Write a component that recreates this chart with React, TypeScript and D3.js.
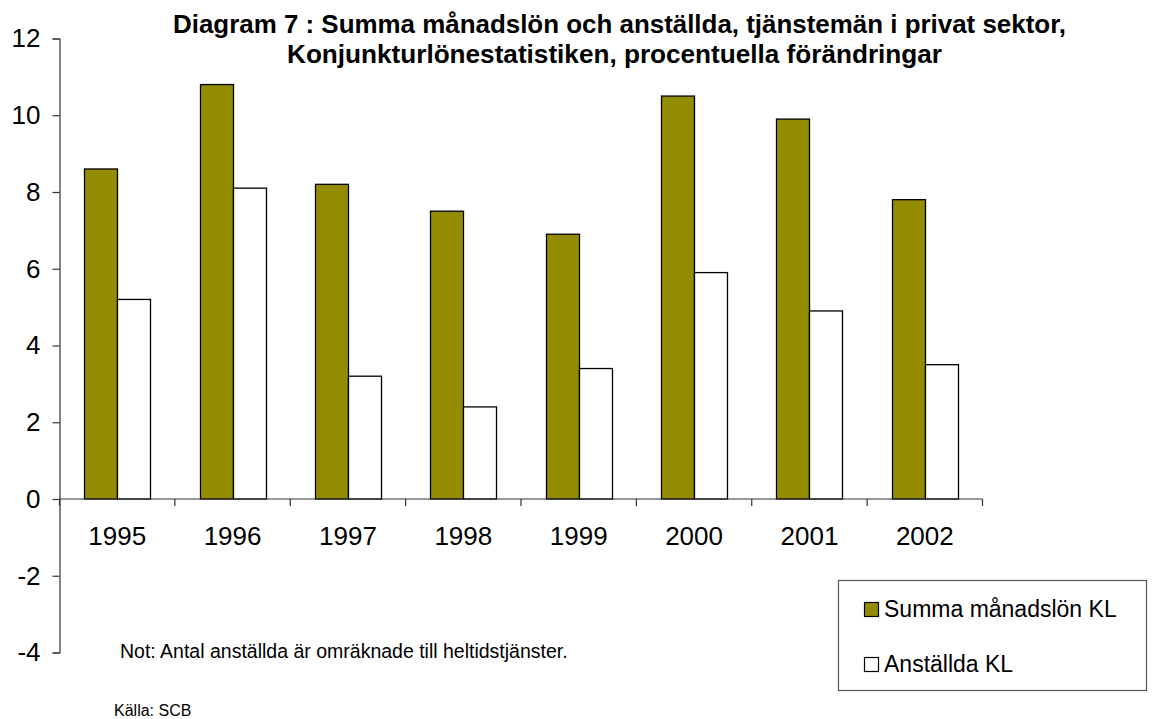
import React, { useEffect, useRef } from 'react';
import * as d3 from 'd3';

// data
const years = ['1995', '1996', '1997', '1998', '1999', '2000', '2001', '2002'];
const summaManadslon = [8.6, 10.8, 8.2, 7.5, 6.9, 10.5, 9.9, 7.8];
const anstallda = [5.2, 8.1, 3.2, 2.4, 3.4, 5.9, 4.9, 3.5];
const seriesNames = ['Summa månadslön KL', 'Anställda KL'];
const seriesColors = ['#948C00', '#FFFFFF'];
const yTicks = [-4, -2, 0, 2, 4, 6, 8, 10, 12];

const titleLines = [
  'Diagram 7 : Summa månadslön och anställda, tjänstemän i privat sektor,',
  'Konjunkturlönestatistiken, procentuella förändringar',
];
const note = 'Not: Antal anställda är omräknade till heltidstjänster.';
const source = 'Källa: SCB';

export default function App() {
  const svgRef = useRef<SVGSVGElement>(null);

  useEffect(() => {
    const width = 1153;
    const height = 719;
    const font = 'Arial, "Liberation Sans", sans-serif';

    const svg = d3.select(svgRef.current);
    svg.selectAll('*').remove();
    svg.attr('width', width).attr('height', height).style('font-family', font);

    const left = 59.5;
    const right = 982.5;

    const x = d3.scaleBand().domain(years).range([left, right]).paddingInner(0).paddingOuter(0);
    const y = d3.scaleLinear().domain([-4, 12]).range([652.5, 38.5]);

    // two bars per year, centred in the category with wide gaps
    const inner = d3.scaleBand().domain(['0', '1']).range([0, x.bandwidth()]).paddingOuter(0.75).paddingInner(0);

    // bars
    const data = years.map((yr, i) => ({ yr, vals: [summaManadslon[i], anstallda[i]] }));
    const g = svg.append('g');
    data.forEach(d => {
      d.vals.forEach((v, s) => {
        const x0 = Math.round((x(d.yr) as number) + (inner(String(s)) as number)) + 0.5;
        const w = Math.round(inner.bandwidth());
        g.append('rect')
          .attr('x', x0)
          .attr('y', y(Math.max(v, 0)))
          .attr('width', w)
          .attr('height', Math.abs(y(v) - y(0)))
          .attr('fill', seriesColors[s])
          .attr('stroke', '#000')
          .attr('stroke-width', 1.3);
      });
    });

    // y axis
    const yAxis = svg.append('g')
      .attr('transform', `translate(${left},0)`)
      .call(d3.axisLeft(y).tickValues(yTicks).tickSize(7).tickPadding(12).tickFormat(d => String(d)));
    yAxis.select('.domain').attr('stroke', '#333').attr('stroke-width', 1.2);
    yAxis.selectAll('.tick line').attr('stroke', '#333').attr('stroke-width', 1.2);
    yAxis.selectAll('.tick text').attr('font-size', 26).attr('font-family', font).attr('fill', '#000');

    // x axis at zero, ticks at category boundaries
    const xg = svg.append('g').attr('transform', `translate(0,${y(0)})`);
    xg.append('line').attr('x1', left).attr('x2', right).attr('stroke', '#333').attr('stroke-width', 1.2);
    const bounds = years.map(yr => x(yr) as number).concat([right]);
    xg.selectAll('.bt').data(bounds).enter().append('line')
      .attr('x1', d => d).attr('x2', d => d).attr('y1', 0).attr('y2', 7)
      .attr('stroke', '#333').attr('stroke-width', 1.2);
    xg.selectAll('.lbl').data(years).enter().append('text')
      .attr('x', d => (x(d) as number) + x.bandwidth() / 2)
      .attr('y', 46)
      .attr('text-anchor', 'middle')
      .attr('font-size', 26)
      .text(d => d);

    // title
    const titleWidths = [893, 655];
    const titleCenters = [619.5, 614.5];
    titleLines.forEach((t, i) => {
      svg.append('text')
        .attr('x', titleCenters[i])
        .attr('y', 33 + i * 30)
        .attr('text-anchor', 'middle')
        .attr('font-size', 25)
        .attr('font-weight', 'bold')
        .attr('textLength', titleWidths[i])
        .attr('lengthAdjust', 'spacingAndGlyphs')
        .text(t);
    });

    // legend
    const lg = svg.append('g');
    lg.append('rect').attr('x', 838.5).attr('y', 580.5).attr('width', 308).attr('height', 110)
      .attr('fill', '#fff').attr('stroke', '#555').attr('stroke-width', 1.2);
    seriesNames.forEach((name, i) => {
      const cy = 609 + i * 55;
      lg.append('rect').attr('x', 864.5).attr('y', cy - 6.5).attr('width', 14).attr('height', 14)
        .attr('fill', seriesColors[i]).attr('stroke', '#000').attr('stroke-width', 1.2);
      lg.append('text').attr('x', 884).attr('y', cy + 8).attr('font-size', 23).text(name);
    });

    // note and source
    svg.append('text').attr('x', 120).attr('y', 658).attr('font-size', 19.5).text(note);
    svg.append('text').attr('x', 114).attr('y', 716).attr('font-size', 16).text(source);
  }, []);

  return (
    <div style={{ position: 'absolute', left: 0, top: 0, background: '#fff' }}>
      <svg ref={svgRef} style={{ display: 'block' }}></svg>
    </div>
  );
}
